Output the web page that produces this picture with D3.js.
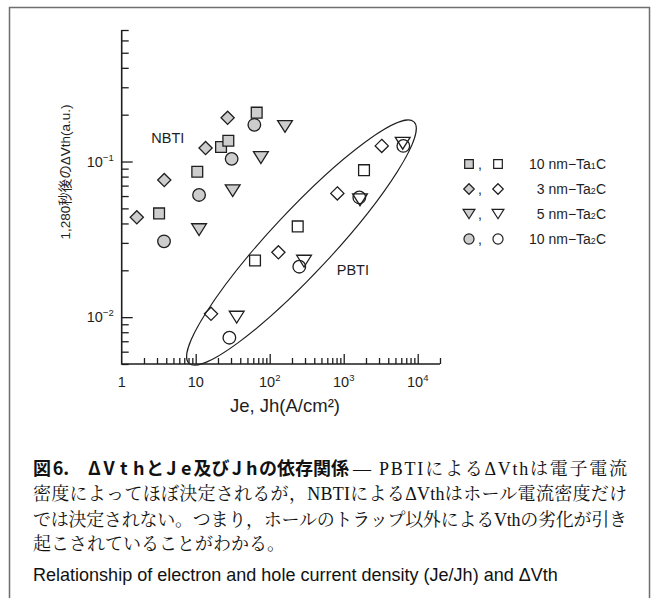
<!DOCTYPE html>
<html><head><meta charset="utf-8">
<script src="https://cdn.jsdelivr.net/npm/d3@7/dist/d3.min.js"></script>
<style>body{margin:0;background:#fff}svg{display:block}</style>
</head><body>
<svg id="c" width="653" height="598"></svg>
<script>
// ---------- data ----------
const xDomain = [1, 2e4];
const yDomain = [5e-3, 0.7];
const xMajorTicks = [1, 10, 100, 1000, 10000];
const xTickBase = ["1", "10", "10", "10", "10"];
const xTickSup = ["", "", "2", "3", "4"];
const yMajorTicks = [0.01, 0.1];
const yTickBase = ["10", "10"];
const yTickSup = ["\u22122", "\u22121"];

const legendPrefix = ["10 nm\u2212Ta", "3 nm\u2212Ta", "5 nm\u2212Ta", "10 nm\u2212Ta"];
const legendSub = ["1", "2", "2", "2"];
const shapes = ["square", "diamond", "triangle", "circle"];

// NBTI (filled markers): [J, dVth]
const nbtiTa1C10 = [[3.2, 0.0464], [10.5, 0.0859], [22, 0.124], [27.6, 0.136], [66.7, 0.206]];
const nbtiTa2C3 = [[1.6, 0.0438], [3.76, 0.076], [13.6, 0.122], [27, 0.191]];
const nbtiTa2C5 = [[11.1, 0.0365], [31.6, 0.0649], [76, 0.106], [161, 0.168]];
const nbtiTa2C10 = [[3.73, 0.0307], [11.1, 0.061], [30.6, 0.104], [62, 0.172]];
// PBTI (open markers)
const pbtiTa1C10 = [[63.3, 0.0231], [239, 0.0383], [1880, 0.088]];
const pbtiTa2C3 = [[16.1, 0.0105], [131, 0.0261], [820, 0.0624], [3265, 0.126]];
const pbtiTa2C5 = [[35.8, 0.0100], [291, 0.0229], [1660, 0.0568], [6270, 0.131]];
const pbtiTa2C10 = [[28.5, 0.00738], [251, 0.0211], [1625, 0.0588], [6390, 0.126]];

const nbtiSeries = [nbtiTa1C10, nbtiTa2C3, nbtiTa2C5, nbtiTa2C10];
const pbtiSeries = [pbtiTa1C10, pbtiTa2C3, pbtiTa2C5, pbtiTa2C10];

// group annotation (PBTI ellipse tips in data units)
const ellipseTips = [[8.1, 0.00505], [8900, 0.180]];
const nbtiLabelAt = [4.2, 0.142];
const pbtiLabelAt = [1330, 0.0202];

const yLabel = "1,280秒後のΔVth(a.u.)";
const xLabel = "Je, Jh(A/cm²)";
const cap1Bold = "図6.  ΔVthとJe及びJhの依存関係";
const cap1Rest = "— PBTIによるΔVthは電子電流";
const cap2 = "密度によってほぼ決定されるが，NBTIによるΔVthはホール電流密度だけ";
const cap3 = "では決定されない。つまり，ホールのトラップ以外によるVthの劣化が引き";
const cap4 = "起こされていることがわかる。";
const capEn = "Relationship of electron and hole current density (Je/Jh) and ΔVth";

// ---------- drawing ----------
const svg = d3.select("#c");
const INK = "#1e1e1e";
const SANS = "'Liberation Sans', Arial, 'Noto Sans CJK JP', sans-serif";
const SERIF = "'Liberation Serif', 'Noto Serif CJK JP', 'Noto Sans CJK JP', serif";
const GOTH = "'Noto Sans CJK JP', sans-serif";

svg.append("rect").attr("x", 9.5).attr("y", 7.5).attr("width", 640).attr("height", 700)
  .attr("fill", "none").attr("stroke", "#6e6e6e").attr("stroke-width", 1.5);

const x = d3.scaleLog().domain(xDomain).range([121.7, 440]);
const y = d3.scaleLog().domain(yDomain).range([364, 30]);

const g = svg.append("g");

const xMinor = [];
for (let e = 0; e <= 4; e++) for (let k = 2; k <= 9; k++) { const v = k * Math.pow(10, e); if (v <= xDomain[1] * 1.0001) xMinor.push(v); }
const yMinor = [];
for (let e = -3; e <= -1; e++) for (let k = 2; k <= 9; k++) { const v = k * Math.pow(10, e); if (v >= yDomain[0] * 0.9999 && v <= yDomain[1] * 1.0001) yMinor.push(v); }

const y0 = y(yDomain[0]);
const x0 = x(xDomain[0]);

function styleAxis(sel) {
  sel.select(".domain").remove();
  sel.selectAll(".tick line").attr("stroke", INK).attr("stroke-width", 1.3);
  sel.selectAll(".tick text").remove();
}
g.append("g").attr("transform", `translate(0,${y0})`)
  .call(d3.axisBottom(x).tickValues(xMinor).tickSize(-6).tickFormat(""))
  .call(styleAxis);
g.append("g").attr("transform", `translate(0,${y0})`)
  .call(d3.axisBottom(x).tickValues(xMajorTicks.slice(1)).tickSize(-10).tickFormat(""))
  .call(styleAxis);
g.append("g").attr("transform", `translate(${x0},0)`)
  .call(d3.axisLeft(y).tickValues(yMinor).tickSize(-7).tickFormat(""))
  .call(styleAxis);
g.append("g").attr("transform", `translate(${x0},0)`)
  .call(d3.axisLeft(y).tickValues(yMajorTicks).tickSize(-11).tickFormat(""))
  .call(styleAxis);
g.append("path")
  .attr("d", `M${x0},${y(yDomain[1])}V${y0}H${x(xDomain[1])}`)
  .attr("fill", "none").attr("stroke", INK).attr("stroke-width", 1.6);

xMajorTicks.forEach((v, i) => {
  const t = g.append("text").attr("x", x(v)).attr("y", y0 + 23)
    .attr("text-anchor", "middle").attr("font-family", SANS).attr("font-size", 14.5).attr("fill", INK);
  t.append("tspan").text(xTickBase[i]);
  if (xTickSup[i]) t.append("tspan").attr("dy", -6).attr("font-size", 9.5).text(xTickSup[i]);
});
yMajorTicks.forEach((v, i) => {
  const t = g.append("text").attr("x", x0 - 8).attr("y", y(v) + 5)
    .attr("text-anchor", "end").attr("font-family", SANS).attr("font-size", 14.5).attr("fill", INK);
  t.append("tspan").text(yTickBase[i]);
  t.append("tspan").attr("dy", -6).attr("font-size", 9.5).text(yTickSup[i]);
});

function fitText(sel, target) {
  const w = sel.node().getComputedTextLength();
  const fs = parseFloat(sel.attr("font-size"));
  sel.attr("font-size", fs * target / w);
}
g.append("text").attr("transform", `translate(65,172) rotate(-90)`)
  .attr("text-anchor", "middle").attr("dominant-baseline", "central")
  .attr("font-family", SANS).attr("font-size", 13.5).attr("fill", INK).text(yLabel);
const xl = g.append("text").attr("x", 285).attr("y", 412)
  .attr("text-anchor", "middle").attr("font-family", SANS).attr("font-size", 14.5).attr("fill", INK).text(xLabel);
fitText(xl, 110);

{
  const p1 = [x(ellipseTips[0][0]), y(ellipseTips[0][1])];
  const p2 = [x(ellipseTips[1][0]), y(ellipseTips[1][1])];
  const cx = (p1[0] + p2[0]) / 2, cy = (p1[1] + p2[1]) / 2;
  const a = Math.hypot(p2[0] - p1[0], p2[1] - p1[1]) / 2;
  const ang = Math.atan2(p2[1] - p1[1], p2[0] - p1[0]) * 180 / Math.PI;
  g.append("ellipse").attr("cx", 0).attr("cy", 0).attr("rx", a).attr("ry", 31)
    .attr("transform", `translate(${cx},${cy}) rotate(${ang})`)
    .attr("fill", "none").attr("stroke", INK).attr("stroke-width", 1.1);
}
g.append("text").attr("x", x(nbtiLabelAt[0])).attr("y", y(nbtiLabelAt[1]) + 5)
  .attr("text-anchor", "middle").attr("font-family", SANS).attr("font-size", 14.5).attr("fill", INK).text("NBTI");
g.append("text").attr("x", x(pbtiLabelAt[0])).attr("y", y(pbtiLabelAt[1]) + 5)
  .attr("text-anchor", "middle").attr("font-family", SANS).attr("font-size", 14.5).attr("fill", INK).text("PBTI");

function markerPath(shape, s) {
  switch (shape) {
    case "square": { const h = 5.4 * s; return `M${-h},${-h}H${h}V${h}H${-h}Z`; }
    case "diamond": { const h = 6.6 * s; return `M0,${-h}L${h},0L0,${h}L${-h},0Z`; }
    case "triangle": { const w = 7.4 * s, h = 5.9 * s; return `M${-w},${-h}H${w}L0,${h}Z`; }
    default: { const r = 6.3 * s; return `M${r},0A${r},${r} 0 1 1 ${-r},0A${r},${r} 0 1 1 ${r},0Z`; }
  }
}
const FILL = "#cdcdcd";
nbtiSeries.forEach((ser, i) => {
  g.append("g").selectAll("path").data(ser).join("path")
    .attr("transform", d => `translate(${x(d[0])},${y(d[1])})`)
    .attr("d", markerPath(shapes[i], 1))
    .attr("fill", FILL).attr("stroke", INK).attr("stroke-width", 1.3);
});
pbtiSeries.forEach((ser, i) => {
  g.append("g").selectAll("path").data(ser).join("path")
    .attr("transform", d => `translate(${x(d[0])},${y(d[1])})`)
    .attr("d", markerPath(shapes[i], 1))
    .attr("fill", "none").attr("stroke", INK).attr("stroke-width", 1.3);
});

const legY = d3.scalePoint().domain(d3.range(4)).range([164, 239]);
legendPrefix.forEach((p, i) => {
  const yy = legY(i);
  g.append("path").attr("transform", `translate(469,${yy})`).attr("d", markerPath(shapes[i], 0.8))
    .attr("fill", FILL).attr("stroke", INK).attr("stroke-width", 1.2);
  g.append("text").attr("x", 478).attr("y", yy + 5).attr("font-family", SANS).attr("font-size", 14).attr("fill", INK).text(",");
  g.append("path").attr("transform", `translate(498,${yy})`).attr("d", markerPath(shapes[i], 0.8))
    .attr("fill", "#fff").attr("stroke", INK).attr("stroke-width", 1.2);
  const t = g.append("text").attr("x", 606).attr("y", yy + 5).attr("text-anchor", "end")
    .attr("font-family", SANS).attr("font-size", 14).attr("fill", INK);
  t.append("tspan").text(p);
  t.append("tspan").attr("font-size", 9).text(legendSub[i]);
  t.append("tspan").text("C");
});

// caption
const cap = svg.append("g").attr("fill", "#111");
{
  const FS = 18, L = 33, BASE = 475;
  const title = cap.append("text").attr("y", BASE).attr("font-family", GOTH)
    .attr("font-weight", 700).attr("font-size", FS);
  // split title into units: CJK chars get 1 em, latin letters 0.82 em, "6." 1.1 em, spaces 0.45 em
  const units = [];
  const chars = Array.from(cap1Bold);
  for (let i = 0; i < chars.length; i++) {
    const ch = chars[i];
    if (ch === "6" && chars[i + 1] === ".") { units.push(["6.", 1.1]); i++; continue; }
    if (ch === " ") { units.push([ch, 0.45]); continue; }
    const cjk = /[\u3000-\u9fff]/.test(ch);
    units.push([ch, cjk ? 1 : 0.82]);
  }
  let cx = L;
  units.forEach(([txt, em]) => {
    const sp = title.append("tspan").text(txt);
    const w = sp.node().getComputedTextLength();
    const cell = em * FS;
    sp.attr("x", cx + (cell - w) / 2);
    cx += cell;
  });
  const restStart = cx + 4;
  cap.append("text").attr("x", restStart).attr("y", BASE).attr("font-family", SERIF)
    .attr("font-size", FS).attr("textLength", 627 - restStart).attr("lengthAdjust", "spacing").text(cap1Rest);
}
cap.append("text").attr("x", 33).attr("y", 500).attr("font-family", SERIF)
  .attr("font-size", 18).attr("textLength", 594).attr("lengthAdjust", "spacing").text(cap2);
cap.append("text").attr("x", 33).attr("y", 526).attr("font-family", SERIF)
  .attr("font-size", 18).attr("textLength", 594).attr("lengthAdjust", "spacing").text(cap3);
cap.append("text").attr("x", 33).attr("y", 550).attr("font-family", SERIF)
  .attr("font-size", 18).text(cap4);
const en = cap.append("text").attr("x", 33).attr("y", 581).attr("font-family", SANS)
  .attr("font-size", 16).text(capEn);
fitText(en, 525);
</script>
</body></html>
